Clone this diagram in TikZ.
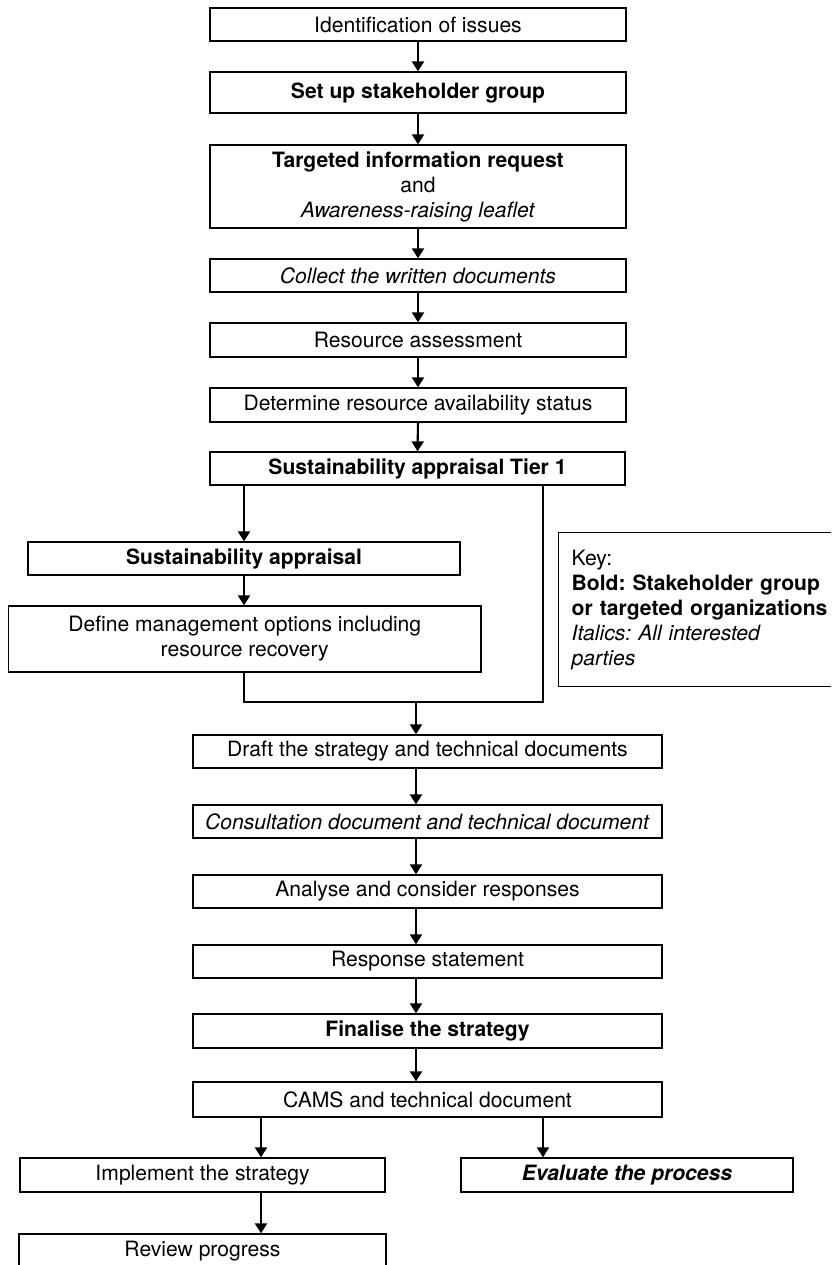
\documentclass[tikz,border=0pt]{standalone}
\usepackage{fontspec}
\setmainfont{TeX Gyre Heros}
\usetikzlibrary{arrows.meta}
\frenchspacing

\begin{document}
\begin{tikzpicture}[x=0.5pt, y=-0.5pt,
  box/.style={draw, line width=0.65pt, inner sep=0pt, align=center,
    font=\fontsize{10.55pt}{12.5pt}\selectfont},
  arr/.style={line width=1.05pt, -{Triangle[width=6pt,length=5pt]}},
  ln/.style={line width=0.65pt}]

\useasboundingbox (0,0) rectangle (831,1265);
\clip (0,0) rectangle (831,1265);

% main column, upper part
\node[box, minimum width=208pt, minimum height=16.5pt] (id) at (418,24.5) {Identification of issues};
\node[box, minimum width=208pt, minimum height=20.5pt] (setup) at (418,92.5) {\textbf{Set up stakeholder group}};
\node[box, minimum width=208pt, minimum height=41.5pt] (target) at (418,186.5)
  {\textbf{Targeted information request}\\and\\\textit{Awareness-raising leaflet}};
\node[box, minimum width=208pt, minimum height=16.5pt] (collect) at (418,275.5) {\textit{Collect the written documents}};
\node[box, minimum width=208pt, minimum height=17pt] (resass) at (418,340) {Resource assessment};
\node[box, minimum width=208pt, minimum height=17pt] (determ) at (418,405) {Determine resource availability status};
\node[box, minimum width=207.5pt, minimum height=16.5pt] (tier) at (417.5,468.5) {\textbf{Sustainability appraisal Tier 1}};

% left branch
\node[box, minimum width=216pt, minimum height=16.5pt] (sa) at (244,558.5) {\textbf{Sustainability appraisal}};
\node[box, minimum width=236.25pt, minimum height=33pt] (define) at (244.75,639)
  {Define management options including\\resource recovery};

% key
\node[box, align=left, anchor=north west, inner xsep=6.5pt, inner ysep=0pt,
  text width=131pt, minimum height=77pt] (key) at (558,532)
  {Key:\\\textbf{Bold: Stakeholder group}\\\textbf{or targeted organizations}\\\textit{Italics: All interested}\\\textit{parties}};

% main column, lower part
\node[box, minimum width=234.5pt, minimum height=16.5pt] (draft) at (427.5,751.5) {Draft the strategy and technical documents};
\node[box, minimum width=234.5pt, minimum height=16.5pt] (consult) at (427.5,821.5) {\textit{Consultation document and technical document}};
\node[box, minimum width=234.5pt, minimum height=16.5pt] (analyse) at (427.5,891.5) {Analyse and consider responses};
\node[box, minimum width=234.5pt, minimum height=16.5pt] (response) at (427.5,961.5) {Response statement};
\node[box, minimum width=234.5pt, minimum height=17pt] (final) at (427.5,1031) {\textbf{Finalise the strategy}};
\node[box, minimum width=234.5pt, minimum height=17.5pt] (cams) at (427.5,1099.5) {CAMS and technical document};

% final row
\node[box, minimum width=182.5pt, minimum height=17pt] (impl) at (202.5,1175) {Implement the strategy};
\node[box, minimum width=166pt, minimum height=17pt] (eval) at (627,1175) {\textbf{\textit{Evaluate the process}}};
\node[box, minimum width=183.5pt, minimum height=17pt] (review) at (202.5,1251) {Review progress};

% connector columns
\coordinate (cx) at (416,0);
\coordinate (lx) at (261,0);
\coordinate (rx) at (543,0);
\coordinate (jr) at (543,702);
\coordinate (join) at (416,702);

% arrows, upper part
\draw[arr] (id.south) -- (setup.north);
\draw[arr] (setup.south) -- (target.north);
\draw[arr] (target.south) -- (collect.north);
\draw[arr] (collect.south) -- (resass.north);
\draw[arr] (resass.south) -- (determ.north);
\draw[arr] (determ.south) -- (tier.north);

% branch and merge
\draw[arr] (tier.south -| sa.north) -- (sa.north);
\draw[arr] (sa.south) -- (define.north -| sa.south);
\draw[ln] (define.south -| sa.south) -- (sa.south |- jr) -- (jr) -- (tier.south -| jr);
\draw[arr] (join) -- (draft.north -| join);

% arrows, lower part
\draw[arr] (draft.south -| cx) -- (consult.north -| cx);
\draw[arr] (consult.south -| cx) -- (analyse.north -| cx);
\draw[arr] (analyse.south -| cx) -- (response.north -| cx);
\draw[arr] (response.south -| cx) -- (final.north -| cx);
\draw[arr] (final.south -| cx) -- (cams.north -| cx);
\draw[arr] (cams.south -| lx) -- (impl.north -| lx);
\draw[arr] (cams.south -| rx) -- (eval.north -| rx);
\draw[arr] (impl.south -| lx) -- (review.north -| lx);

\end{tikzpicture}
\end{document}
